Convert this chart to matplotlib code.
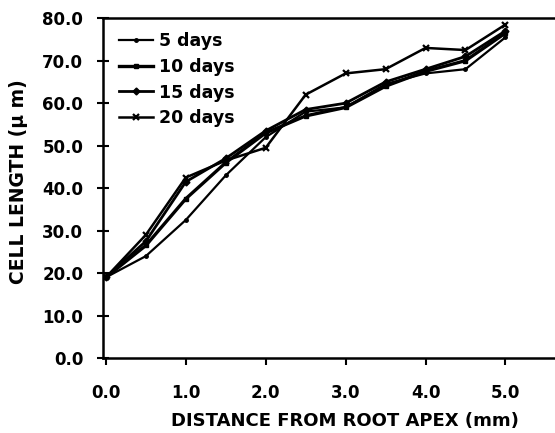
import matplotlib
matplotlib.use("Agg")
import matplotlib.pyplot as plt

distance = [0.0, 0.5, 1.0, 1.5, 2.0, 2.5, 3.0, 3.5, 4.0, 4.5, 5.0]
days_5 = [19.0, 24.0, 32.5, 43.0, 52.0, 58.0, 59.0, 64.5, 67.0, 68.0, 75.5]
days_10 = [19.0, 26.5, 37.5, 46.0, 53.0, 57.0, 59.0, 64.0, 67.5, 70.0, 76.5]
days_15 = [19.0, 27.5, 41.5, 47.0, 53.5, 58.5, 60.0, 65.0, 68.0, 71.0, 77.0]
days_20 = [19.0, 29.0, 42.5, 46.5, 49.5, 62.0, 67.0, 68.0, 73.0, 72.5, 78.5]
labels = ["5 days", "10 days", "15 days", "20 days"]
xticks = [0.0, 1.0, 2.0, 3.0, 4.0, 5.0]
yticks = [0, 10, 20, 30, 40, 50, 60, 70, 80]

plt.rcParams['font.family'] = ['DejaVu Sans']
plt.rcParams['font.weight'] = 'bold'

fig = plt.figure(figsize=(5.55, 4.33), dpi=100)
ax = fig.add_axes([0.185, 0.173, 0.815, 0.785])

styles = [
    dict(marker='.', markersize=5, lw=1.6),
    dict(marker='s', markersize=3.5, lw=2.4),
    dict(marker='D', markersize=3.5, lw=2.0),
    dict(marker='x', markersize=5, lw=1.8, mew=1.6),
]
for vals, lab, st in zip([days_5, days_10, days_15, days_20], labels, styles):
    ax.plot(distance, vals, color='black', label=lab, **st)

ax.set_xlim(-0.04, 5.62)
ax.set_ylim(0, 80)
ax.set_xticks(xticks)
ax.set_xticklabels([f"{t:.1f}" for t in xticks])
ax.set_yticks(yticks)
ax.set_yticklabels([f"{t:.1f}" for t in yticks])
ax.tick_params(axis='x', direction='out', length=5, width=1.5, pad=14, labelsize=12)
ax.tick_params(axis='y', direction='inout', length=8, width=1.5, pad=10, labelsize=12)

for s in ['left', 'bottom', 'top']:
    ax.spines[s].set_linewidth(1.8)
ax.spines['right'].set_visible(False)

ax.set_xlabel("DISTANCE FROM ROOT APEX (mm)", fontsize=13, fontweight='bold')
ax.set_ylabel("CELL LENGTH (\u03bc m)", fontsize=13.5, fontweight='bold')
ax.xaxis.set_label_coords(0.535, -0.16)
ax.yaxis.set_label_coords(-0.165, 0.52)

leg = ax.legend(loc='upper left', frameon=False, fontsize=12.5, handlelength=2.0,
                handletextpad=0.3, labelspacing=0.45, borderaxespad=0.0,
                bbox_to_anchor=(0.02, 0.98))

fig.savefig("out.png", dpi=100)
